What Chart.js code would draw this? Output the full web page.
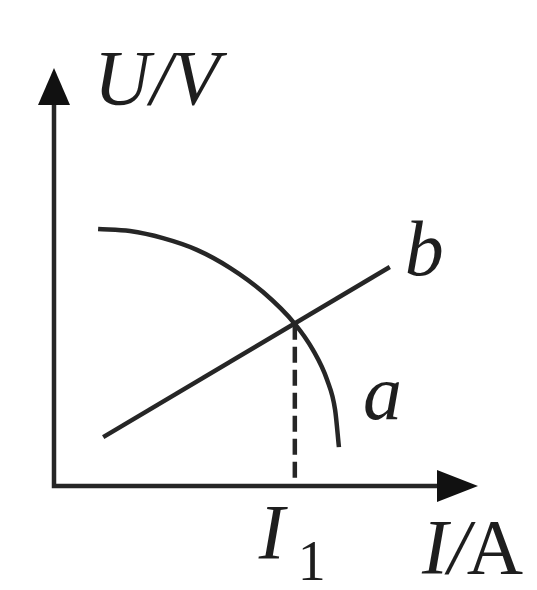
<!DOCTYPE html>
<html>
<head>
<meta charset="utf-8">
<script src="https://cdn.jsdelivr.net/npm/chart.js@4/dist/chart.umd.min.js"></script>
<style>
  html, body { margin: 0; padding: 0; background: #fff; }
  #wrap { width: 537px; height: 590px; position: relative; }
</style>
</head>
<body>
<div id="wrap"><canvas id="myChart"></canvas></div>
<script>
// curve a (source characteristic), read along the arc
var curveA_x = [1.04, 1.79, 2.57, 3.37, 4.15, 4.93, 5.68, 6.11, 6.44, 6.63, 6.72];
var curveA_y = [6.15, 6.10, 5.93, 5.65, 5.22, 4.64, 3.88, 3.25, 2.54, 1.82, 0.93];
// line b (resistor)
var lineB_x = [1.16, 7.92];
var lineB_y = [1.17, 5.24];
// operating point where a and b meet
var crossX = 5.68;
var crossY = 3.88;

var axisMax = 10;
var ink = '#262626';
var serif = '"Liberation Serif", "Times New Roman", serif';

function toPoints(xs, ys){
	var pts = [];
	for(var i=0; i < xs.length; i++){
		pts.push({x: xs[i], y: ys[i]});
	}
	return pts;
}

// axes with arrow heads and the hand-set labels
var axesPlugin = {
	id: 'axesPlugin',
	afterDatasetsDraw: function(chart){
		var ctx = chart.ctx;
		var xs = chart.scales.x, ys = chart.scales.y;
		var x0 = xs.getPixelForValue(0), y0 = ys.getPixelForValue(0);
		var xEnd = xs.getPixelForValue(axisMax), yEnd = ys.getPixelForValue(axisMax);
		ctx.save();
		ctx.strokeStyle = ink;
		ctx.fillStyle = '#111';
		ctx.lineWidth = 4.5;
		ctx.lineCap = 'butt';
		ctx.beginPath();
		ctx.moveTo(x0, yEnd + 30);
		ctx.lineTo(x0, y0);
		ctx.lineTo(xEnd - 30, y0);
		ctx.stroke();
		// arrow heads
		ctx.beginPath();
		ctx.moveTo(x0, yEnd);
		ctx.lineTo(x0 - 16, yEnd + 37);
		ctx.lineTo(x0 + 16, yEnd + 37);
		ctx.closePath();
		ctx.fill();
		ctx.beginPath();
		ctx.moveTo(xEnd, y0);
		ctx.lineTo(xEnd - 41, y0 - 16);
		ctx.lineTo(xEnd - 41, y0 + 16);
		ctx.closePath();
		ctx.fill();

		// labels
		ctx.fillStyle = '#1e1e1e';
		ctx.textBaseline = 'alphabetic';
		ctx.textAlign = 'left';
		var it = 'italic 78px ' + serif;
		var up = '78px ' + serif;
		ctx.font = it;
		ctx.fillText('U/V', x0 + 40, yEnd + 36);
		ctx.fillText('b', xs.getPixelForValue(lineB_x[1]) + 15, ys.getPixelForValue(lineB_y[1]) + 8);
		ctx.fillText('a', xs.getPixelForValue(curveA_x[curveA_x.length - 1]) + 24, ys.getPixelForValue(1.6));

		var cx = xs.getPixelForValue(crossX);
		ctx.fillText('I', cx - 36, y0 + 72);
		ctx.font = '56px ' + serif;
		ctx.fillText('1', cx + 3, y0 + 94);

		ctx.font = it;
		var w = ctx.measureText('I/').width;
		ctx.fillText('I/', xEnd - 56, y0 + 87);
		ctx.font = up;
		ctx.fillText('A', xEnd - 56 + w - 3, y0 + 87);
		ctx.restore();
	}
};

new Chart(document.getElementById("myChart"), {
	type: 'scatter',
	data: {
		datasets: [{
			label: 'a',
			data: toPoints(curveA_x, curveA_y),
			showLine: true,
			borderColor: ink,
			borderWidth: 4.5,
			pointRadius: 0,
			cubicInterpolationMode: 'monotone'
		}, {
			label: 'b',
			data: toPoints(lineB_x, lineB_y),
			showLine: true,
			borderColor: ink,
			borderWidth: 4.5,
			pointRadius: 0
		}, {
			label: 'I1',
			data: [{x: crossX, y: crossY}, {x: crossX, y: 0}],
			showLine: true,
			borderColor: ink,
			borderWidth: 4.5,
			borderDash: [16, 7],
			pointRadius: 0
		}]
	},
	options: {
		responsive: true,
		maintainAspectRatio: false,
		animation: false,
		layout: { padding: { left: 54, right: 59, top: 68, bottom: 104 } },
		plugins: {
			legend: { display: false },
			tooltip: { enabled: false }
		},
		scales: {
			x: { type: 'linear', min: 0, max: axisMax, display: false },
			y: { type: 'linear', min: 0, max: axisMax, display: false }
		}
	},
	plugins: [axesPlugin]
});
</script>
</body>
</html>
